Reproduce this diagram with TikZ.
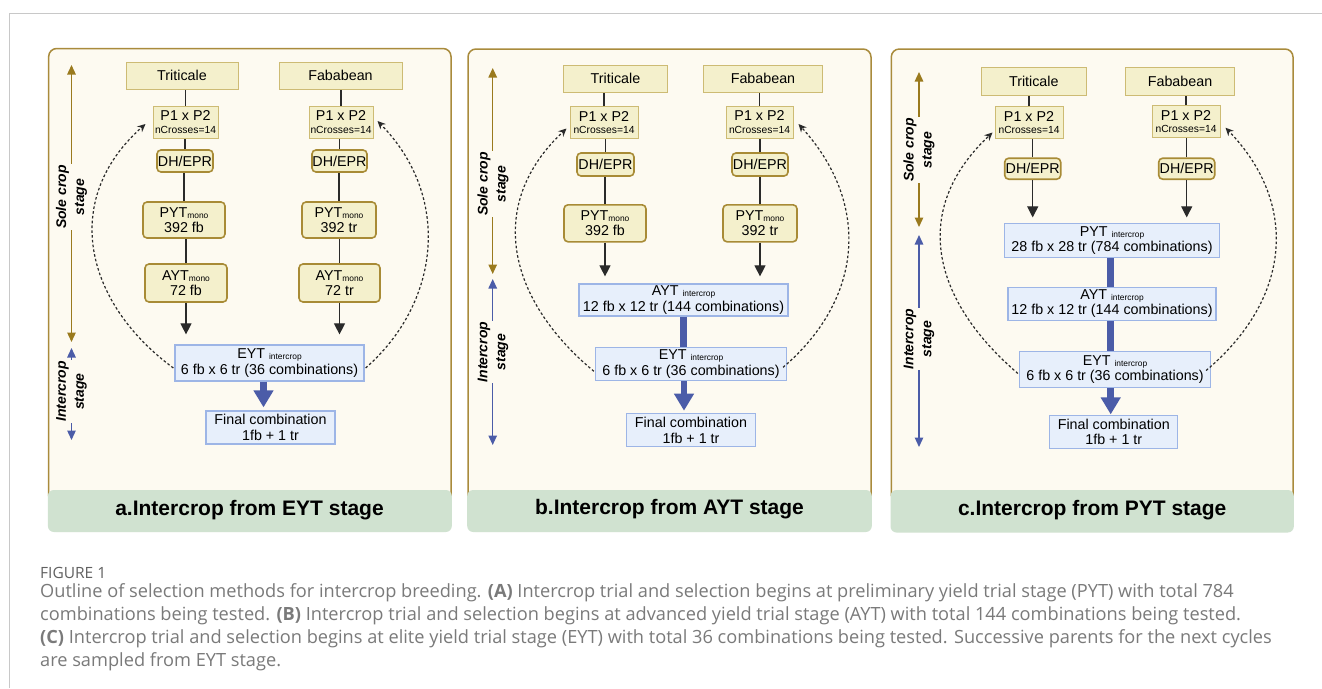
\documentclass[tikz,border=0pt]{standalone}
\usepackage{fontspec}
\setmainfont{Liberation Sans}
\newfontfamily\capfont{Open Sans}
\usetikzlibrary{arrows.meta}
\definecolor{panelbg}{HTML}{FDFAF1}
\definecolor{panelborder}{HTML}{A98B3C}
\definecolor{bandgreen}{HTML}{D0E2D0}
\definecolor{boxfill}{HTML}{F4F0CC}
\definecolor{thinb}{HTML}{CDBB74}
\definecolor{thickb}{HTML}{A88B36}
\definecolor{bluefill}{HTML}{E7EFFB}
\definecolor{blueb}{HTML}{9DB5E6}
\definecolor{dblue}{HTML}{4B5CA8}
\definecolor{brownarr}{HTML}{9A7A1E}
\definecolor{conncol}{HTML}{2A2A2A}
\definecolor{capgray}{HTML}{7A7A7A}
\definecolor{figgray}{HTML}{606060}
\definecolor{framegray}{HTML}{C8C8C8}
\newcommand{\ncx}[1]{{\fontsize{10.3}{11}\selectfont #1}}
\newcommand{\subm}[1]{{\fontsize{8.4}{9}\selectfont\raisebox{-1pt}{#1}}}
\begin{document}
\begin{tikzpicture}[x=1pt,y=-1pt,
  tbox/.style={draw=thinb, fill=boxfill, line width=1pt, inner sep=0pt, align=center, font=\fontsize{14.3}{15.5}\selectfont},
  rbox/.style={draw=thickb, fill=boxfill, line width=1.6pt, rounded corners=4pt, inner sep=0pt, align=center, font=\fontsize{14.3}{15.5}\selectfont},
  ibox/.style={draw=blueb, fill=bluefill, line width=1.2pt, inner sep=0pt, align=center, font=\fontsize{14.3}{15.5}\selectfont},
  sz/.style 2 args={minimum width=#1pt, minimum height=#2pt},
  conn/.style={draw=conncol, line width=1.1pt},
  arr/.style={conn, -{Triangle[width=11pt,length=11pt]}},
  bbar/.style={draw=dblue, line width=6.5pt},
  barrow/.style={bbar, -{Triangle[width=19pt,length=17pt]}},
  stbrown/.style={draw=brownarr, line width=1.3pt, {Triangle[width=8.5pt,length=9.5pt]}-{Triangle[width=8.5pt,length=9.5pt]}},
  stblue/.style={draw=dblue, line width=1.3pt, {Triangle[width=8.5pt,length=9.5pt]}-{Triangle[width=8.5pt,length=9.5pt]}},
  dcurve/.style={draw=conncol, line width=1.2pt, dash pattern=on 2.6pt off 2.2pt, -{Stealth[width=7.5pt,length=8pt]}},
  stlab/.style={rotate=90, align=center, font=\fontsize{14}{18}\selectfont\bfseries\itshape, fill=panelbg, inner sep=1pt},
  bandtxt/.style={font=\fontsize{21}{24}\selectfont\bfseries},
  captxt/.style={anchor=base west, font=\capfont\fontsize{18.2}{20}\selectfont, text=capgray, inner sep=0pt}
]
\useasboundingbox (0,0) rectangle (1322,688);
\fill[white] (0,0) rectangle (1322,688);
\draw[framegray, line width=1.2pt] (9.7,688) -- (9.7,13.3) -- (1322,13.3);

% ---------- panels ----------
\fill[panelbg, rounded corners=8pt] (48.7,48.5) rectangle (451,532);
\draw[panelborder, line width=1.5pt, rounded corners=8pt] (48.7,496) -- (48.7,48.5) -- (451,48.5) -- (451,496);
\fill[bandgreen, rounded corners=6pt] (47.9,490) rectangle (451.8,532);
\node[bandtxt] (ttl_a) at (249.5,510) {a.Intercrop from EYT stage};

\fill[panelbg, rounded corners=8pt] (468,49) rectangle (871,532);
\draw[panelborder, line width=1.5pt, rounded corners=8pt] (468,496) -- (468,49) -- (871,49) -- (871,496);
\fill[bandgreen, rounded corners=6pt] (467.2,490) rectangle (871.8,532);
\node[bandtxt] (ttl_b) at (669.5,509.5) {b.Intercrop from AYT stage};

\fill[panelbg, rounded corners=8pt] (891.3,49) rectangle (1293,532);
\draw[panelborder, line width=1.5pt, rounded corners=8pt] (891.3,496) -- (891.3,49) -- (1293,49) -- (1293,496);
\fill[bandgreen, rounded corners=6pt] (890.5,490) rectangle (1293.8,532.5);
\node[bandtxt] (ttl_c) at (1092.2,510) {c.Intercrop from PYT stage};

% ---------- panel a ----------
\node[tbox, sz={112}{27}] (tri_a) at (182,75.5) {Triticale};
\node[tbox, sz={123}{27}] (fab_a) at (340.5,75.5) {Fababean};
\node[tbox, sz={65}{32}] (p_a1) at (185.5,122) {P1 x P2\\[-3pt]\ncx{nCrosses=14}};
\node[tbox, sz={64}{32}] (p_a2) at (341,122) {P1 x P2\\[-3pt]\ncx{nCrosses=14}};
\node[rbox, sz={56}{22}] (dh_a1) at (185,161) {DH/EPR};
\node[rbox, sz={55}{22}] (dh_a2) at (339.5,161) {DH/EPR};
\node[rbox, sz={82}{36}] (pyt_a1) at (184,220) {PYT\subm{mono}\\392 fb};
\node[rbox, sz={74}{36}] (pyt_a2) at (339,220) {PYT\subm{mono}\\392 tr};
\node[rbox, sz={82}{38}] (ayt_a1) at (186,283) {AYT\subm{mono}\\72 fb};
\node[rbox, sz={81}{38}] (ayt_a2) at (339.5,283) {AYT\subm{mono}\\72 tr};
\node[ibox, sz={189}{36}] (eyt_a) at (269.5,363) {EYT \subm{intercrop}\\6 fb x 6 tr (36 combinations)};
\node[ibox, sz={129}{33}] (fin_a) at (270.5,427.5) {Final combination\\1fb + 1 tr};

\draw[conn] (p_a1.north) -- (p_a1.north |- tri_a.south);
\draw[conn] (dh_a1.north) -- (dh_a1.north |- p_a1.south);
\draw[conn] (pyt_a1.north) -- (pyt_a1.north |- dh_a1.south);
\draw[conn] (ayt_a1.north) -- (ayt_a1.north |- pyt_a1.south);
\draw[conn] (p_a2.north) -- (p_a2.north |- fab_a.south);
\draw[conn] (dh_a2.north) -- (dh_a2.north |- p_a2.south);
\draw[conn] (pyt_a2.north) -- (pyt_a2.north |- dh_a2.south);
\draw[conn] (ayt_a2.north) -- (ayt_a2.north |- pyt_a2.south);
\draw[arr, shorten >=10pt] (ayt_a1.south) -- (ayt_a1.south |- eyt_a.north);
\draw[arr, shorten >=10pt] (ayt_a2.south) -- (ayt_a2.south |- eyt_a.north);
\draw[barrow, shorten >=3pt] ([xshift=-6pt]eyt_a.south) -- ([xshift=-6pt]eyt_a.south |- fin_a.north);
\draw[dcurve] ([xshift=-1pt,yshift=-5pt]eyt_a.west) .. controls (85,303) and (60,200) .. ([xshift=-7pt,yshift=-2pt]p_a1.west);
\draw[dcurve] ([xshift=1pt,yshift=-5pt]eyt_a.east) .. controls (440,303) and (452,197) .. ([xshift=4pt,yshift=1pt]p_a2.east);

\coordinate (sa_t) at (71.5,65); \coordinate (sa_m1) at (71.5,342);
\coordinate (sa_m2) at (71.5,348); \coordinate (sa_b) at (71.5,440);
\draw[stbrown] (sa_t) -- (sa_m1);
\draw[stblue] (sa_m2) -- (sa_b);
\node[stlab] (sl_a) at (71.5,197) {Sole crop\\stage};
\node[stlab] (il_a) at (71.5,391.5) {Intercrop\\stage};

% ---------- panel b ----------
\node[tbox, sz={104}{27}] (tri_b) at (615.5,78.5) {Triticale};
\node[tbox, sz={119}{27}] (fab_b) at (763,78.5) {Fababean};
\node[tbox, sz={68}{32}] (p_b1) at (604,122.5) {P1 x P2\\[-3pt]\ncx{nCrosses=14}};
\node[tbox, sz={67}{32}] (p_b2) at (759.5,122) {P1 x P2\\[-3pt]\ncx{nCrosses=14}};
\node[rbox, sz={57}{23}] (dh_b1) at (605.5,164.5) {DH/EPR};
\node[rbox, sz={56}{23}] (dh_b2) at (760,164.5) {DH/EPR};
\node[rbox, sz={82}{37}] (pyt_b1) at (605,223.3) {PYT\subm{mono}\\392 fb};
\node[rbox, sz={74}{37}] (pyt_b2) at (760,223.3) {PYT\subm{mono}\\392 tr};
\node[ibox, sz={209}{32}] (ayt_b) at (683.5,300) {AYT \subm{intercrop}\\12 fb x 12 tr (144 combinations)};
\node[ibox, sz={191}{33}] (eyt_b) at (691,364.3) {EYT \subm{intercrop}\\6 fb x 6 tr (36 combinations)};
\node[ibox, sz={129}{33}] (fin_b) at (691,430.3) {Final combination\\1fb + 1 tr};

\draw[conn] (p_b1.north) -- (p_b1.north |- tri_b.south);
\draw[conn] (dh_b1.north) -- (dh_b1.north |- p_b1.south);
\draw[conn] (pyt_b1.north) -- (pyt_b1.north |- dh_b1.south);
\draw[conn] (p_b2.north) -- (p_b2.north |- fab_b.south);
\draw[conn] (dh_b2.north) -- (dh_b2.north |- p_b2.south);
\draw[conn] (pyt_b2.north) -- (pyt_b2.north |- dh_b2.south);
\draw[arr, shorten >=7pt] (pyt_b1.south) -- (pyt_b1.south |- ayt_b.north);
\draw[arr, shorten >=7pt] (pyt_b2.south) -- (pyt_b2.south |- ayt_b.north);
\draw[bbar] (ayt_b.south) -- (ayt_b.south |- eyt_b.north);
\draw[barrow, shorten >=2.5pt] ([xshift=-7pt]eyt_b.south) -- ([xshift=-7pt]eyt_b.south |- fin_b.north);
\draw[dcurve] ([xshift=-1pt,yshift=-7pt]eyt_b.west) .. controls (508,300) and (485,205) .. ([xshift=-3pt,yshift=-6pt]p_b1.west);
\draw[dcurve] ([xshift=-4pt,yshift=-3pt]eyt_b.east) .. controls (862,300) and (872,205) .. ([xshift=5pt,yshift=-2pt]p_b2.east);

\coordinate (sb_t) at (492.7,68); \coordinate (sb_m1) at (492.7,274);
\coordinate (sb_m2) at (492.7,279); \coordinate (sb_b) at (492.7,445);
\draw[stbrown] (sb_t) -- (sb_m1);
\draw[stblue] (sb_m2) -- (sb_b);
\node[stlab] (sl_b) at (493,184) {Sole crop\\stage};
\node[stlab] (il_b) at (493,352) {Intercrop\\stage};

% ---------- panel c ----------
\node[tbox, sz={105}{28}] (tri_c) at (1033.8,81.8) {Triticale};
\node[tbox, sz={109}{28}] (fab_c) at (1180,81.8) {Fababean};
\node[tbox, sz={68}{32}] (p_c1) at (1029,122.5) {P1 x P2\\[-3pt]\ncx{nCrosses=14}};
\node[tbox, sz={68}{32}] (p_c2) at (1186,121.7) {P1 x P2\\[-3pt]\ncx{nCrosses=14}};
\node[rbox, sz={56}{21}] (dh_c1) at (1032.7,168.7) {DH/EPR};
\node[rbox, sz={56}{21}] (dh_c2) at (1186.7,168.7) {DH/EPR};
\node[ibox, sz={215}{34}] (pyt_c) at (1112,240.5) {PYT \subm{intercrop}\\28 fb x 28 tr (784 combinations)};
\node[ibox, sz={208}{33}] (ayt_c) at (1112,303.7) {AYT \subm{intercrop}\\12 fb x 12 tr (144 combinations)};
\node[ibox, sz={191}{36}] (eyt_c) at (1115,369.5) {EYT \subm{intercrop}\\6 fb x 6 tr (36 combinations)};
\node[ibox, sz={128}{33}] (fin_c) at (1113.8,432) {Final combination\\1fb + 1 tr};

\draw[conn] (p_c1.north) -- (p_c1.north |- tri_c.south);
\draw[conn] (dh_c1.north) -- (dh_c1.north |- p_c1.south);
\draw[conn] (p_c2.north) -- (p_c2.north |- fab_c.south);
\draw[conn] (dh_c2.north) -- (dh_c2.north |- p_c2.south);
\draw[arr, shorten >=5.5pt] (dh_c1.south) -- (dh_c1.south |- pyt_c.north);
\draw[arr, shorten >=5.5pt] (dh_c2.south) -- (dh_c2.south |- pyt_c.north);
\draw[bbar] ([xshift=-1.3pt]pyt_c.south) -- ([xshift=-1.3pt]pyt_c.south |- ayt_c.north);
\draw[bbar] ([xshift=-1.3pt]ayt_c.south) -- ([xshift=-1.3pt]ayt_c.south |- eyt_c.north);
\draw[barrow, shorten >=0.5pt] ([xshift=-4.3pt]eyt_c.south) -- ([xshift=-4.3pt]eyt_c.south |- fin_c.north);
\draw[dcurve] ([xshift=-1pt,yshift=-4pt]eyt_c.west) .. controls (932,300) and (910,210) .. ([xshift=-2pt,yshift=-10pt]p_c1.west);
\draw[dcurve] ([xshift=-5pt,yshift=-1pt]eyt_c.east) .. controls (1290,300) and (1300,205) .. ([xshift=5pt,yshift=-6pt]p_c2.east);

\coordinate (sc_t) at (919,72); \coordinate (sc_m1) at (919,227);
\coordinate (sc_m2) at (919,235); \coordinate (sc_b) at (919,447);
\draw[stbrown] (sc_t) -- (sc_m1);
\draw[stblue] (sc_m2) -- (sc_b);
\node[stlab] (sl_c) at (919,150) {Sole crop\\stage};
\node[stlab] (il_c) at (919,339) {Intercrop\\stage};

% ---------- caption ----------
\node[anchor=base west, font=\capfont\fontsize{15.5}{17}\selectfont, text=figgray, inner sep=0pt] (figlab) at (40,578.5) {FIGURE 1};
\node[captxt] (cap1) at (40,597) {Outline of selection methods for intercrop breeding. \textbf{(A)} Intercrop trial and selection begins at preliminary yield trial stage (PYT) with total 784};
\node[captxt] (cap2) at (40,620) {combinations being tested. \textbf{(B)} Intercrop trial and selection begins at advanced yield trial stage (AYT) with total 144 combinations being tested.};
\node[captxt] (cap3) at (40,643) {\textbf{(C)} Intercrop trial and selection begins at elite yield trial stage (EYT) with total 36 combinations being tested. Successive parents for the next cycles};
\node[captxt] (cap4) at (40,666) {are sampled from EYT stage.};
\end{tikzpicture}
\end{document}
